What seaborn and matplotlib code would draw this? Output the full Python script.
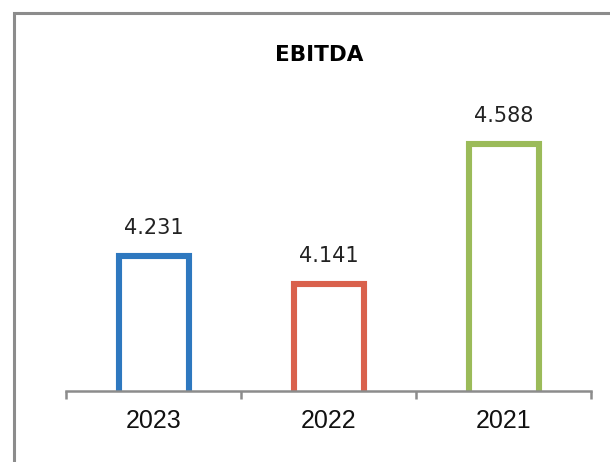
import matplotlib
matplotlib.use("Agg")
import matplotlib.pyplot as plt
from matplotlib.patches import Rectangle
import seaborn as sns
import pandas as pd

years = ["2023", "2022", "2021"]
ebitda = [4.231, 4.141, 4.588]
colors = ["#2E78BF", "#D9614C", "#9BBB59"]
title = "EBITDA"

sns.set_style("white")
plt.rcParams["font.family"] = ["DejaVu Sans"]

df = pd.DataFrame({"year": years, "value": ebitda})

fig = plt.figure(figsize=(6.1, 4.62), dpi=100)
ax = fig.add_axes([66 / 610, 71 / 462, 525 / 610, 313 / 462])

sns.barplot(data=df, x="year", y="value", hue="year", palette=colors,
            order=years, hue_order=years, width=0.4, legend=False, ax=ax)

for patch, c in zip(ax.patches, colors):
    patch.set_facecolor("white")
    patch.set_edgecolor(c)
    patch.set_linewidth(4.4)

ax.set_ylim(3.8, 4.8)
ax.set_xlim(-0.5, 2.5)
ax.set_xlabel("")
ax.set_ylabel("")
ax.set_yticks([])

for s in ["top", "right", "left"]:
    ax.spines[s].set_visible(False)
ax.spines["bottom"].set_color("#8C8C8C")
ax.spines["bottom"].set_linewidth(1.8)
ax.spines["bottom"].set_zorder(5)

ax.set_xticks(range(len(years)))
ax.set_xticklabels(years, family="Liberation Sans", fontsize=18, color="#111111")
ax.tick_params(axis="x", which="major", bottom=True, length=0, pad=13)
ax.set_xticks([-0.5, 0.5, 1.5, 2.5], minor=True)
ax.tick_params(axis="x", which="minor", bottom=True, length=6, width=1.8,
               color="#8C8C8C", direction="out")

for i, v in enumerate(ebitda):
    ax.annotate(f"{v:.3f}", (i, v), xytext=(0, 28), textcoords="offset pixels",
                ha="center", va="center", fontsize=15, color="#222222")

fig.text(319.5 / 610, 1 - 55 / 462, title, ha="center", va="center",
         fontsize=15.5, fontweight="bold", color="#000000")

fig.patches.append(Rectangle((14 / 610, -0.1), 1.2, 1 - 13 / 462 + 0.1,
                             transform=fig.transFigure, fill=False,
                             edgecolor="#8C8C8C", linewidth=2.2, zorder=0))

fig.savefig("out.png", dpi=100)
